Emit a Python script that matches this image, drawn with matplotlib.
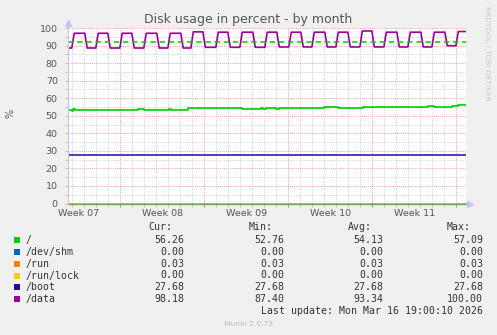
import matplotlib
matplotlib.use('Agg')
import matplotlib.pyplot as plt
from matplotlib.patches import Rectangle
import numpy as np

# x axis is in days from the left edge of the graph
end_day = 33.2
week_names = ['Week 07', 'Week 08', 'Week 09', 'Week 10', 'Week 11']

# "/" (step series)
root_t = [0, 0.35, 0.49, 0.63, 5.85, 6.4, 8.49, 8.63, 10.07, 14.5, 16.1, 16.3,
          16.5, 17.4, 17.6, 21.4, 22.5, 24.6, 30.0, 30.5, 32.0, 32.5, 33.2]
root_v = [53.2, 52.8, 53.7, 53.2, 53.7, 53.2, 53.7, 53.2, 54.3, 53.8, 54.3, 53.8,
          54.3, 53.8, 54.3, 54.9, 54.3, 54.9, 55.5, 54.9, 55.5, 56.0, 56.0]

# "/data" goes up and down every two days
data_rise = [0.46, 2.46, 4.46, 6.46, 8.46, 10.38, 12.46, 14.46, 16.54, 18.54,
             20.46, 22.46, 24.46, 26.46, 28.46, 30.46, 32.46]
data_fall = [1.54, 3.46, 5.46, 7.54, 9.54, 11.38, 13.46, 15.54, 17.54, 19.54,
             21.54, 23.46, 25.46, 27.54, 29.54, 31.54, None]
data_high = [97.0, 97.0, 97.0, 97.0, 97.0, 97.8, 97.6, 97.6, 97.6, 97.6,
             97.6, 97.6, 98.3, 97.6, 97.6, 97.6, 98.0]
data_low = [88.6, 88.6, 88.6, 88.6, 88.6, 88.6, 89.0, 89.0, 89.0, 89.2,
            89.2, 89.2, 89.2, 89.2, 89.2, 89.2, 89.9]  # low before each rise

boot_v = 27.68
shm_v = 0.0
run_v = 0.03
lock_v = 0.0
warn_v = 92

names = ['/', '/dev/shm', '/run', '/run/lock', '/boot', '/data']
colors = ['#00CC00', '#0066B3', '#FF8000', '#FFCC00', '#330099', '#990099']
cur = ['56.26', '0.00', '0.03', '0.00', '27.68', '98.18']
mins = ['52.76', '0.00', '0.03', '0.00', '27.68', '87.40']
avgs = ['54.13', '0.00', '0.03', '0.00', '27.68', '93.34']
maxs = ['57.09', '0.00', '0.03', '0.00', '27.68', '100.00']

W, H = 497, 335
fig = plt.figure(figsize=(W / 100, H / 100), dpi=100, facecolor='#f0f0f0')
ax = fig.add_axes([67.5 / W, (H - 203.5) / H, (466 - 67.5) / W, (203.5 - 28) / H])
ax.set_facecolor('white')
ax.set_xlim(0, end_day)
ax.set_ylim(0, 100)

# grid: days / weeks, 5 / 10 percent
week_start = [4.375 + 7 * i for i in range(5)]
ax.set_xticks(week_start)
ax.set_xticks(np.arange(0.375, end_day, 1), minor=True)
ax.set_yticks(range(0, 101, 10))
ax.set_yticks(range(5, 100, 5), minor=True)
ax.grid(which='minor', color='#d4d4d4', ls=(0, (1, 1)), lw=0.7)
ax.grid(which='major', color='#f0a8a8', ls=(0, (1, 1)), lw=0.7)
ax.set_axisbelow(True)
ax.set_xticklabels([])
ax.tick_params(axis='x', which='major', length=2, color='#e08080')
ax.tick_params(axis='x', which='minor', length=2, color='#bbbbbb')
ax.tick_params(axis='y', which='both', length=2, color='#bbbbbb', pad=5,
               labelsize=6.8, labelcolor='#555555')
for s in ax.spines.values():
    s.set_visible(False)

for i, name in enumerate(week_names):
    ax.text(week_start[i] - 3.44, -0.055, name, transform=ax.get_xaxis_transform(),
            ha='center', va='center', fontsize=6.8, color='#555555')

# series
ax.plot([0, end_day], [shm_v, shm_v], color=colors[1], lw=0.8, clip_on=False)
ax.plot([0, end_day], [run_v, run_v], color=colors[2], lw=0.8, clip_on=False, alpha=0.7)
ax.plot([0, end_day], [lock_v, lock_v], color=colors[3], lw=0.8, clip_on=False, alpha=0.5)
ax.plot(root_t, root_v, color=colors[0], lw=1.2, drawstyle='steps-post')
ax.plot([0, end_day], [boot_v, boot_v], color=colors[4], lw=1.1)

dx, dy = [0], [data_low[0]]
for i in range(len(data_rise)):
    dx += [data_rise[i] - 0.1, data_rise[i] + 0.1]
    dy += [data_low[i], data_high[i]]
    if data_fall[i] is not None:
        nxt = data_low[i + 1]
        dx += [data_fall[i] - 0.1, data_fall[i] + 0.1]
        dy += [data_high[i], nxt]
dx.append(end_day)
dy.append(dy[-1])
ax.plot(dx, dy, color=colors[5], lw=1.2)
ax.axhline(warn_v, color=colors[0], lw=1.1, ls=(0, (3.5, 2.5)))

# axis lines with arrows
axc = '#c4c4f4'
ax.plot([0, 0], [0, 1.03], transform=ax.transAxes, color=axc, lw=0.8, clip_on=False)
ax.plot([0, 1.01], [0, 0], transform=ax.transAxes, color=axc, lw=0.8, clip_on=False, zorder=0)
ax.plot([0], [1.03], marker='^', ms=4, color=axc, transform=ax.transAxes, clip_on=False)
ax.plot([1.011], [0], marker='>', ms=4, color=axc, transform=ax.transAxes, clip_on=False)

def fx(px):
    return px / W

def fy(py):
    return 1 - py / H

fig.text(0.5, fy(19), 'Disk usage in percent - by month', ha='center', va='center',
         fontsize=9, color='#555555')
fig.text(fx(487), fy(53), 'RRDTOOL / TOBI OETIKER', rotation=270, ha='center',
         va='center', fontsize=5.3, color='#c8c8c8')
fig.text(fx(11), fy(113), '%', rotation=90, ha='center', va='center', fontsize=7,
         color='#555555')

# legend
mono = 'DejaVu Sans Mono'
lc = '#333333'
fs = 7.1
for x, h in zip([172.5, 272.5, 371.5, 470.5], ['Cur:', 'Min:', 'Avg:', 'Max:']):
    fig.text(fx(x), fy(227.5), h, ha='right', va='center', family=mono, fontsize=fs, color=lc)
for i, name in enumerate(names):
    y = 239.8 + 11.9 * i
    fig.add_artist(Rectangle((fx(14), fy(y + 3)), 6 / W, 6 / H, transform=fig.transFigure,
                             facecolor=colors[i], edgecolor='none'))
    fig.text(fx(26), fy(y), name, ha='left', va='center', family=mono, fontsize=fs, color=lc)
    for x, vals in zip([184.5, 284.5, 383.5, 483], [cur, mins, avgs, maxs]):
        fig.text(fx(x), fy(y), vals[i], ha='right', va='center', family=mono,
                 fontsize=fs, color=lc)
fig.text(fx(483), fy(311.5), 'Last update: Mon Mar 16 19:00:10 2026', ha='right',
         va='center', family=mono, fontsize=fs, color=lc)
fig.text(fx(248), fy(324), 'Munin 2.0.73', ha='center', va='center', fontsize=5.4,
         color='#bbbbbb')

fig.savefig('out.png', dpi=100, facecolor=fig.get_facecolor())
